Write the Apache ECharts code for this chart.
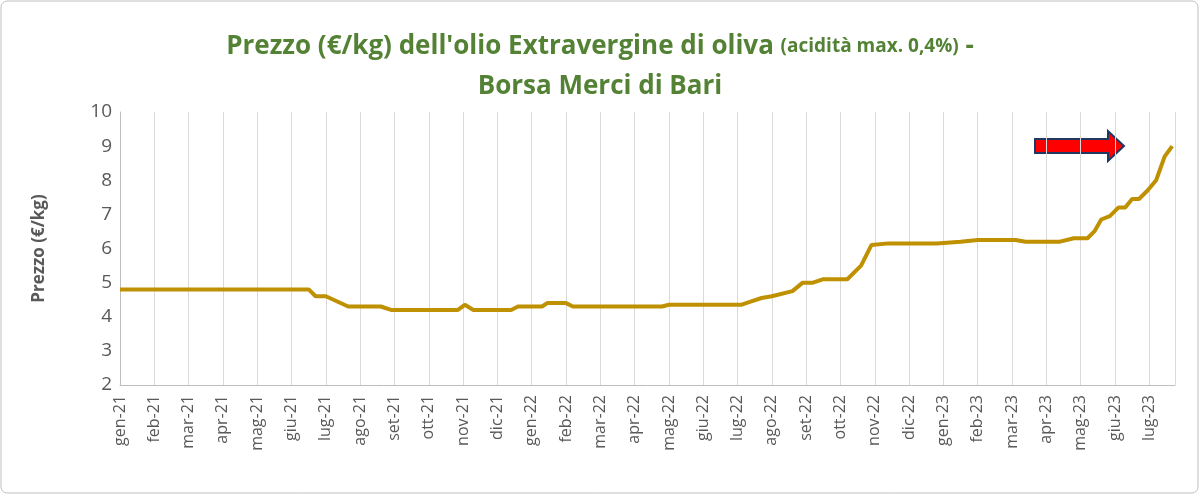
<!DOCTYPE html>
<html><head><meta charset="utf-8">
<script src="https://cdn.jsdelivr.net/npm/echarts@6/dist/echarts.min.js"></script>
<style>html,body{margin:0;background:#fff}#c{width:1200px;height:495px}</style>
</head><body><div id="c"></div>
<script>
var mesi = ['gen-21','feb-21','mar-21','apr-21','mag-21','giu-21','lug-21','ago-21','set-21','ott-21','nov-21','dic-21',
  'gen-22','feb-22','mar-22','apr-22','mag-22','giu-22','lug-22','ago-22','set-22','ott-22','nov-22','dic-22',
  'gen-23','feb-23','mar-23','apr-23','mag-23','giu-23','lug-23'];
// mese (0 = gen-21), prezzo €/kg
var tempo = [0,5.5,5.7,6.0,6.65,7.6,7.9,9.85,10.05,10.3,11.4,11.6,12.3,12.45,13.0,13.2,15.8,16.0,18.1,18.4,18.7,19.0,19.6,19.9,20.2,20.5,21.2,21.6,21.9,22.4,23.8,24.5,25.0,26.1,26.4,27.4,27.8,28.2,28.4,28.6,28.85,29.1,29.3,29.5,29.7,29.95,30.2,30.45,30.67];
var prezzo = [4.8,4.8,4.6,4.6,4.3,4.3,4.2,4.2,4.35,4.2,4.2,4.3,4.3,4.4,4.4,4.3,4.3,4.35,4.35,4.45,4.55,4.6,4.75,5.0,5.0,5.1,5.1,5.5,6.1,6.15,6.15,6.2,6.25,6.25,6.2,6.2,6.3,6.3,6.5,6.85,6.95,7.2,7.2,7.45,7.45,7.7,8.0,8.7,9.0];

var chart = echarts.init(document.getElementById('c'));
chart.setOption({
  animation:false,
  textStyle:{fontFamily:'Open Sans'},
  title:{
    left:'center', top:22,
    text:'{a|Prezzo (€/kg) dell\'olio Extravergine di oliva }{b|(acidità max. 0,4%)}{a| -}\n{a|Borsa Merci di Bari}',
    textStyle:{rich:{
      a:{fontSize:26,fontWeight:'bold',color:'#548235',fontFamily:'Open Sans',lineHeight:40},
      b:{fontSize:19,fontWeight:'bold',color:'#548235',fontFamily:'Open Sans',lineHeight:40}
    }}
  },
  graphic:[
    {type:'rect',shape:{x:1,y:1,width:1197,height:492,r:6},style:{fill:'none',stroke:'#bfbfbf',lineWidth:1}},
    {type:'polygon',shape:{points:[[1035,139],[1108,139],[1108,131],[1124,146],[1108,161],[1108,153],[1035,153]]},
      style:{fill:'#ff0000',stroke:'#1f3864',lineWidth:2}}
  ],
  grid:{left:120,right:25,top:112,bottom:110},
  xAxis:{type:'value',min:0,max:30.75,interval:1,
    axisLine:{lineStyle:{color:'#bfbfbf'}},axisTick:{show:false},
    splitLine:{show:true,lineStyle:{color:'#d9d9d9'}},
    axisLabel:{rotate:90,fontSize:16,color:'#595959',margin:10,showMaxLabel:false,
      formatter:function(v){return mesi[v]||'';}}},
  yAxis:{type:'value',min:2,max:10,interval:1,name:'Prezzo (€/kg)',nameLocation:'middle',nameGap:72,
    nameTextStyle:{fontSize:17,fontWeight:'bold',color:'#595959'},
    axisLine:{show:true,lineStyle:{color:'#bfbfbf'}},axisTick:{show:false},splitLine:{show:false},
    axisLabel:{fontSize:19,color:'#595959'}},
  series:[{type:'line',showSymbol:false,
    data:tempo.map(function(t,i){return [t,prezzo[i]];}),
    lineStyle:{color:'#bf9000',width:4}}]
});
</script></body></html>
